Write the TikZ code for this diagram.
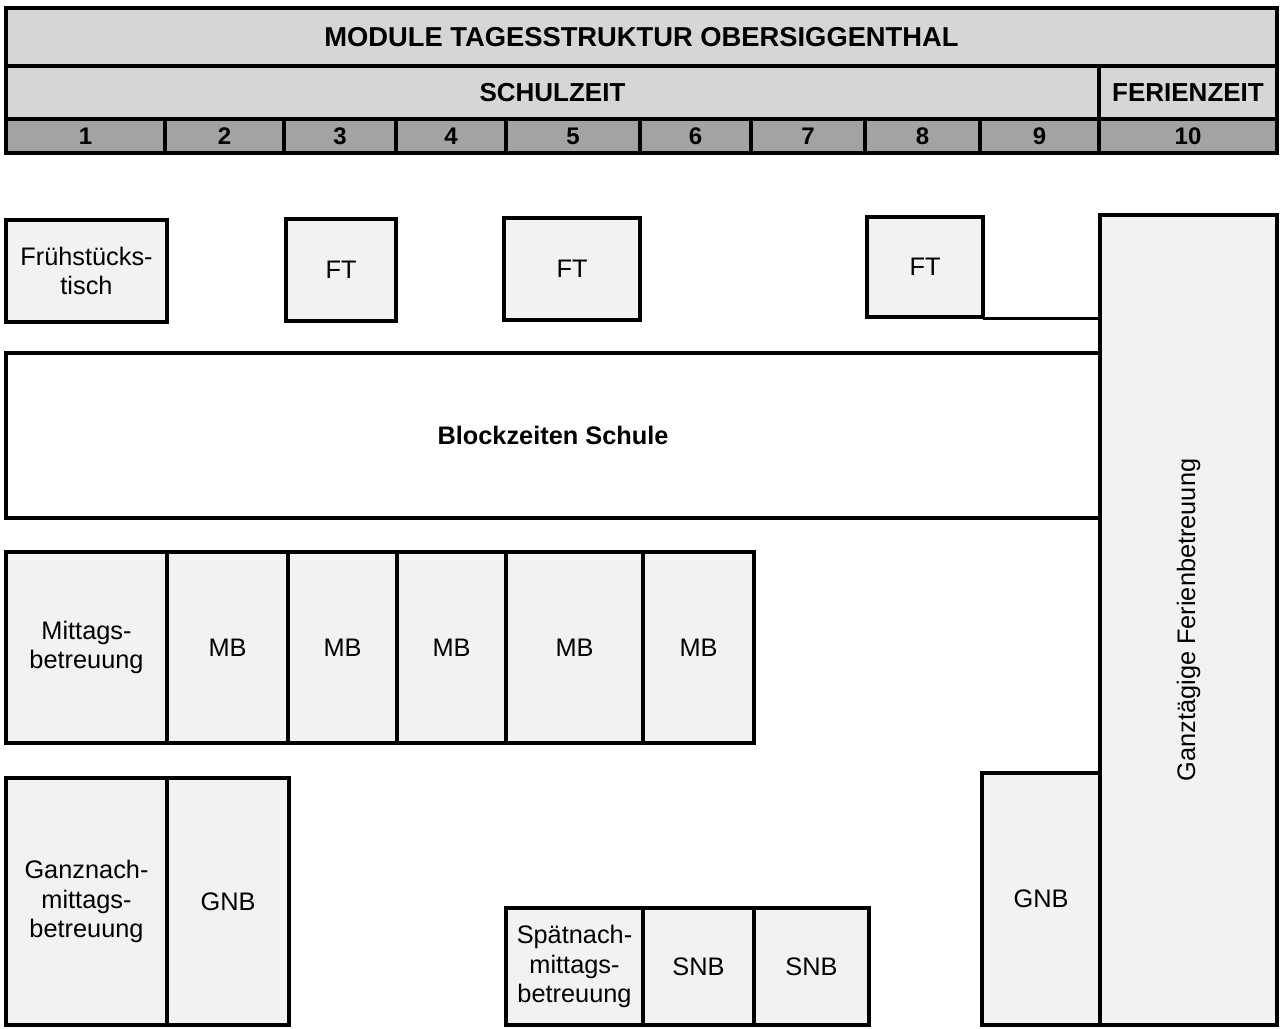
\documentclass[tikz,border=0pt]{standalone}
\usepackage{fontspec}
\setmainfont{Liberation Sans}
\usetikzlibrary{fit}
\definecolor{boxfill}{gray}{0.95}
\definecolor{hdrfill}{gray}{0.84}
\definecolor{numfill}{gray}{0.64}
\begin{document}
\begin{tikzpicture}[x=0.75pt,y=-0.75pt,
  cell/.style={draw=black, line width=2.5pt, inner sep=0pt, fill=boxfill},
  hdr/.style={cell, fill=hdrfill},
  num/.style={cell, fill=numfill},
  block/.style={cell, fill=white},
  txt/.style={inner sep=0pt, align=center, font=\fontsize{19}{22}\selectfont},
  titletxt/.style={txt, font=\fontsize{20.5}{24}\selectfont\bfseries},
  hdrtxt/.style={txt, font=\fontsize{19.5}{22}\selectfont\bfseries},
  numtxt/.style={txt, font=\fontsize{18}{20}\selectfont\bfseries},
  bztxt/.style={txt, font=\fontsize{19}{22}\selectfont\bfseries},
  conn/.style={draw=black, line width=2.5pt, line cap=rect}]
\useasboundingbox (0,0) rectangle (1281,1028);
% header
\node[hdr, fit={(6,8)(1277,66)}] (title) {};
\node[titletxt] at (title) {MODULE TAGESSTRUKTUR OBERSIGGENTHAL};
\node[hdr, fit={(6,66)(1099,119)}] (schul) {};
\node[hdrtxt] at (schul) {SCHULZEIT};
\node[hdr, fit={(1099,66)(1277,119)}] (ferien) {};
\node[hdrtxt] at (ferien) {FERIENZEIT};
\node[num, fit={(6,119)(165,153)}] (n1) {};
\node[num, fit={(165,119)(284,153)}] (n2) {};
\node[num, fit={(284,119)(396,153)}] (n3) {};
\node[num, fit={(396,119)(506,153)}] (n4) {};
\node[num, fit={(506,119)(640,153)}] (n5) {};
\node[num, fit={(640,119)(751,153)}] (n6) {};
\node[num, fit={(751,119)(865,153)}] (n7) {};
\node[num, fit={(865,119)(980,153)}] (n8) {};
\node[num, fit={(980,119)(1099,153)}] (n9) {};
\node[num, fit={(1099,119)(1277,153)}] (n10) {};
\foreach \i in {1,...,10} \node[numtxt] at (n\i) {\i};
% Frühstückstisch
\node[cell, fit={(6,220)(167,322)}] (fr) {};
\node[txt] at (fr) {Frühstücks-\\tisch};
\node[cell, fit={(286,219)(396,321)}] (ft3) {};
\node[txt] at (ft3) {FT};
\node[cell, fit={(504,218)(640,320)}] (ft5) {};
\node[txt] at (ft5) {FT};
\node[cell, fit={(867,217)(983,317)}] (ft8) {};
\node[txt] at (ft8) {FT};
% Ganztägige Ferienbetreuung
\node[cell, fit={(1100,215)(1277,1025)}] (gf) {};
\node[txt, rotate=90] (gftext) at (gf.center) {Ganztägige Ferienbetreuung};
\draw[conn] (ft8.south east) -- (ft8.south east -| gf.west);
% Blockzeiten
\node[block, fit={(6,353)(1100,518)}] (bz) {};
\node[bztxt] at (bz) {Blockzeiten Schule};
% Mittagsbetreuung
\node[cell, fit={(6,552)(167,743)}] (mb1) {};
\node[txt] at (mb1) {Mittags-\\betreuung};
\node[cell, fit={(167,552)(288,743)}] (mb2) {};
\node[cell, fit={(288,552)(397,743)}] (mb3) {};
\node[cell, fit={(397,552)(506,743)}] (mb4) {};
\node[cell, fit={(506,552)(643,743)}] (mb5) {};
\node[cell, fit={(643,552)(754,743)}] (mb6) {};
\foreach \i in {2,...,6} \node[txt] at (mb\i) {MB};
% Ganznachmittagsbetreuung
\node[cell, fit={(6,778)(167,1025)}] (gn1) {};
\node[txt] at (gn1) {Ganznach-\\mittags-\\betreuung};
\node[cell, fit={(167,778)(289,1025)}] (gn2) {};
\node[txt] at (gn2) {GNB};
\node[cell, fit={(982,773)(1100,1025)}] (gn9) {};
\node[txt] at (gn9) {GNB};
% Spätnachmittagsbetreuung
\node[cell, fit={(506,908)(643,1025)}] (sn1) {};
\node[txt] at (sn1) {Spätnach-\\mittags-\\betreuung};
\node[cell, fit={(643,908)(754,1025)}] (sn2) {};
\node[txt] at (sn2) {SNB};
\node[cell, fit={(754,908)(869,1025)}] (sn3) {};
\node[txt] at (sn3) {SNB};
\end{tikzpicture}
\end{document}
